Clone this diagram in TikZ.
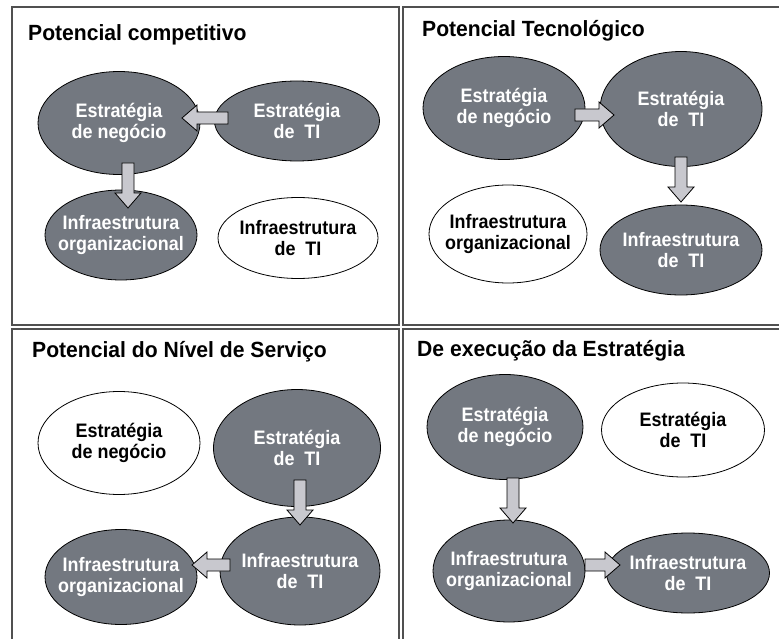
\documentclass[tikz,border=0pt]{standalone}
\usepackage{fontspec}
\setmainfont{Liberation Sans}
\newfontfamily\elfont[FakeStretch=0.92]{Liberation Sans}
\newfontfamily\titlefont[FakeStretch=0.96]{Liberation Sans}
\usetikzlibrary{shapes.geometric,calc}

\definecolor{ellgray}{RGB}{115,120,128}
\definecolor{arrgray}{RGB}{200,200,206}
\definecolor{framegray}{RGB}{80,80,80}

\tikzset{
  elfull/.style={ellipse, draw=black, line width=0.8pt, fill=ellgray, inner sep=0pt,
    label={[eltext, text=white]center:#1}},
  elempty/.style={ellipse, draw=black, line width=0.8pt, fill=white, inner sep=0pt,
    label={[eltext, text=black]center:#1}},
  eltext/.style={align=center, inner sep=0pt, font=\elfont\bfseries\fontsize{19.5}{21}\selectfont},
  paneltitle/.style={anchor=base west, inner sep=0pt, font=\titlefont\bfseries\fontsize{22}{24}\selectfont},
  panel/.style={draw=framegray, line width=1.5pt},
  barrow/.style={draw=black, line width=0.8pt, fill=arrgray, line join=miter},
}

%% block arrow from #1 (tail) to #2 (tip)
\newcommand\blockarrow[2]{%
  \coordinate (bh) at ($(#2)!15pt!(#1)$);
  \draw[barrow] ($(#1)!6pt!90:(#2)$) -- ($(bh)!6pt!90:(#2)$) -- ($(bh)!13pt!90:(#2)$)
    -- (#2) -- ($(bh)!13pt!-90:(#2)$) -- ($(bh)!6pt!-90:(#2)$) -- ($(#1)!6pt!-90:(#2)$) -- cycle;
}

\begin{document}
\begin{tikzpicture}[x=1pt,y=-1pt]
        \useasboundingbox (0,0) rectangle (779,639);
        \clip (0,0) rectangle (779,639);
        %% four panels
        \draw[panel] (12,7) rectangle (399,325);
        \draw[panel] (403,7) rectangle (790,325);
        \draw[panel] (12,329) rectangle (399,650);
        \draw[panel] (403,329) rectangle (790,650);
        %% titles
        \node[paneltitle] (tlTitle) at (28,41) {Potencial competitivo};
        \node[paneltitle] (trTitle) at (422,37) {Potencial Tecnológico};
        \node[paneltitle] (blTitle) at (32,357) {Potencial do Nível de Serviço};
        \node[paneltitle] (brTitle) at (417,356) {De execução da Estratégia};

        %% top left
        \node[elfull={Estratégia\\de negócio}, minimum width=162pt, minimum height=103pt] (tlEN) at (119,123) {};
        \node[elfull={Estratégia\\de~~TI}, minimum width=165pt, minimum height=80pt] (tlTI) at (297,121) {};
        \node[elfull={Infraestrutura\\organizacional}, minimum width=152pt, minimum height=90pt] (tlIO) at (121,235) {};
        \node[elempty={Infraestrutura\\de~~TI}, minimum width=160pt, minimum height=81pt] (tlIT) at (298,238) {};
        \coordinate (tlAs) at ($(tlTI)+(-69,-3)$);
        \coordinate (tlAt) at ($(tlEN)+(63,-5)$);
        \coordinate (tlBs) at ($(tlEN)+(9,40)$);
        \coordinate (tlBt) at ($(tlIO)+(7,-27)$);
        \blockarrow{tlAs}{tlAt}
        \blockarrow{tlBs}{tlBt}

        %% top right
        \node[elfull={Estratégia\\de negócio}, minimum width=162pt, minimum height=103pt] (trEN) at (504,108) {};
        \node[elfull={Estratégia\\de~~TI}, minimum width=162pt, minimum height=115pt] (trTI) at (681,109) {};
        \node[elempty={Infraestrutura\\organizacional}, minimum width=158pt, minimum height=98pt] (trIO) at (508,234) {};
        \node[elfull={Infraestrutura\\de~~TI}, minimum width=162pt, minimum height=90pt] (trIT) at (681,250) {};
        \coordinate (trAs) at ($(trEN)+(71,7)$);
        \coordinate (trAt) at ($(trTI)+(-67,6)$);
        \coordinate (trBs) at ($(trTI)+(0,48)$);
        \coordinate (trBt) at ($(trIT)+(0,-48)$);
        \blockarrow{trAs}{trAt}
        \blockarrow{trBs}{trBt}

        %% bottom left
        \node[elempty={Estratégia\\de negócio}, minimum width=162pt, minimum height=103pt] (blEN) at (119,443) {};
        \node[elfull={Estratégia\\de~~TI}, minimum width=167pt, minimum height=117pt] (blTI) at (297,448) {};
        \node[elfull={Infraestrutura\\organizacional}, minimum width=152pt, minimum height=95pt] (blIO) at (121,577) {};
        \node[elfull={Infraestrutura\\de~~TI}, minimum width=160pt, minimum height=108pt] (blIT) at (300,571) {};
        \coordinate (blAs) at ($(blTI)+(3,32)$);
        \coordinate (blAt) at ($(blIT)+(0,-46)$);
        \coordinate (blBs) at ($(blIT)+(-70,-6)$);
        \coordinate (blBt) at ($(blIO)+(71,-12)$);
        \blockarrow{blAs}{blAt}
        \blockarrow{blBs}{blBt}

        %% bottom right
        \node[elfull={Estratégia\\de negócio}, minimum width=156pt, minimum height=105pt] (brEN) at (505,427) {};
        \node[elempty={Estratégia\\de~~TI}, minimum width=163pt, minimum height=94pt] (brTI) at (683,430) {};
        \node[elfull={Infraestrutura\\organizacional}, minimum width=152pt, minimum height=102pt] (brIO) at (509,571) {};
        \node[elfull={Infraestrutura\\de~~TI}, minimum width=163pt, minimum height=80pt] (brIT) at (688,573) {};
        \coordinate (brAs) at ($(brEN)+(8,51)$);
        \coordinate (brAt) at ($(brIO)+(4,-48)$);
        \coordinate (brBs) at ($(brIO)+(76,-6)$);
        \coordinate (brBt) at ($(brIT)+(-68,-8)$);
        \blockarrow{brAs}{brAt}
        \blockarrow{brBs}{brBt}
    \end{tikzpicture}
\end{document}
